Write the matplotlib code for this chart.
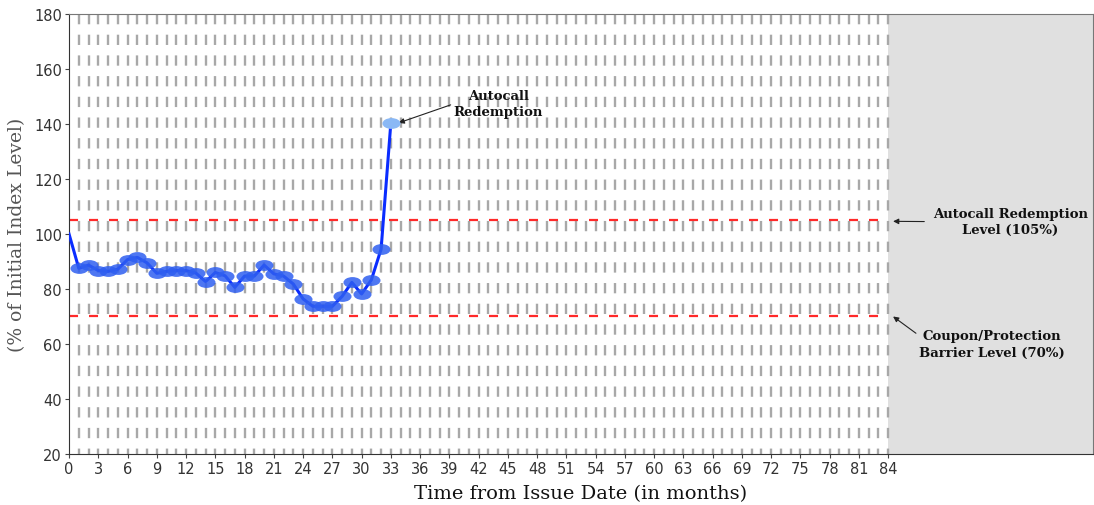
import matplotlib
matplotlib.use("Agg")
import matplotlib.pyplot as plt
import numpy as np
from matplotlib.path import Path
from matplotlib.transforms import Affine2D

plt.rcParams['lines.scale_dashes'] = False

# ---- data ----
months = list(range(0, 34))
index_level = [100, 87.5, 88.7, 86.7, 86.4, 87.2, 90.7, 91.5, 89.5, 85.7,
               86.4, 86.7, 86.7, 85.8, 82.7, 86.0, 84.8, 80.6, 84.7, 84.7,
               88.7, 85.5, 84.7, 81.8, 76.4, 73.7, 73.7, 73.7, 77.3, 82.4,
               78.2, 83.3, 94.5, 140.4]
autocall_level = 105
barrier_level = 70
term_months = 84
x_max = 105
x_ticks = list(range(0, 85, 3))
y_ticks = list(range(20, 181, 20))

fig = plt.figure(figsize=(10.94, 5.06), dpi=100)
ax = fig.add_axes([0.0631, 0.1008, 0.936, 0.8696])
ax.set_xlim(0, x_max)
ax.set_ylim(20, 180)

# grey region after the term
ax.axvspan(term_months, x_max, color='#e0e0e0', zorder=0, lw=0)

# vertical dashed grid lines every month
ax.vlines(np.arange(1, term_months + 1), 180, 20, colors='#a8a8a8',
          linewidth=1.7, linestyles=[(0, (7.4, 7.5))], zorder=1)

# barrier lines
for lvl in (autocall_level, barrier_level):
    ax.plot([0, term_months], [lvl, lvl], color='#ff2a2a', lw=1.6,
            dashes=(6.5, 7.9), zorder=2)

# index path
ax.plot(months, index_level, color='#0a2cff', lw=2.2, zorder=4,
        solid_joinstyle='round')

ell = Path.unit_circle().transformed(Affine2D().scale(1.0, 0.6))
ax.plot(months[1:-1], index_level[1:-1], ls='none', marker=ell, ms=13,
        mfc='#2f5ff0', mec='none', alpha=0.85, zorder=5)
ax.plot(months[-1:], index_level[-1:], ls='none', marker=ell, ms=13,
        mfc='#8ab8f5', mec='none', zorder=5)

# ticks & labels
ax.set_xticks(x_ticks)
ax.set_yticks(y_ticks)
ax.tick_params(axis='both', colors='#444444', labelsize=10.5, length=3,
               width=0.8, pad=2)
for lab in ax.get_xticklabels() + ax.get_yticklabels():
    lab.set_color('#333333')
for sp in ax.spines.values():
    sp.set_color('#777777')
    sp.set_linewidth(0.8)
ax.spines['left'].set_color('#333333')
ax.spines['bottom'].set_color('#333333')

ax.set_xlabel('Time from Issue Date (in months)', family='DejaVu Serif',
              fontsize=14, color='#111111', labelpad=6)
ax.set_ylabel('(% of Initial Index Level)', family='DejaVu Serif',
              fontsize=13.5, color='#555555', labelpad=6)

# annotations
ax.annotate('Autocall\nRedemption', xy=(33.8, 140.4), xytext=(44, 147.3),
            ha='center', va='center', family='DejaVu Serif', fontweight='bold',
            fontsize=9.5, color='#111111', linespacing=1.3,
            arrowprops=dict(arrowstyle='-|>', color='#222222', lw=0.8,
                            mutation_scale=8, shrinkA=0, shrinkB=0,
                            relpos=(0.0, 0.5)))
ax.annotate('Autocall Redemption\nLevel (105%)', xy=(84.5, autocall_level - 0.4),
            xytext=(96.5, autocall_level - 0.5), ha='center', va='center',
            family='DejaVu Serif', fontweight='bold', fontsize=9.5,
            color='#111111', linespacing=1.3,
            arrowprops=dict(arrowstyle='-|>', color='#222222', lw=0.8,
                            mutation_scale=8, shrinkA=4, shrinkB=0,
                            relpos=(0.0, 0.5)))
ax.annotate('Coupon/Protection\nBarrier Level (70%)', xy=(84.5, barrier_level),
            xytext=(94.6, 60), ha='center', va='center',
            family='DejaVu Serif', fontweight='bold', fontsize=9.5,
            color='#111111', linespacing=1.3,
            arrowprops=dict(arrowstyle='-|>', color='#222222', lw=0.8,
                            mutation_scale=8, shrinkA=0, shrinkB=0,
                            relpos=(0.0, 0.8)))

fig.savefig('out.png', dpi=100)
